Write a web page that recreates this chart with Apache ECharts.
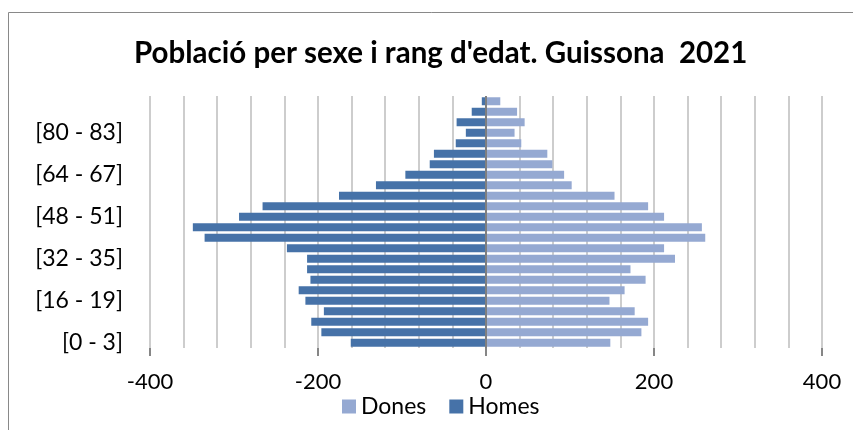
<!DOCTYPE html>
<html>
<head>
<meta charset="utf-8">
<script src="https://cdn.jsdelivr.net/npm/echarts@6/dist/echarts.min.js"></script>
<style>
  html, body { margin: 0; padding: 0; background: #fff; }
  #chart { width: 853px; height: 430px; }
</style>
</head>
<body>
<div id="chart"></div>
<script>
// age groups, bottom to top
const ageGroups = [
  "[0 - 3]", "[4 - 7]", "[8 - 11]", "[12 - 15]", "[16 - 19]", "[20 - 23]",
  "[24 - 27]", "[28 - 31]", "[32 - 35]", "[36 - 39]", "[40 - 43]", "[44 - 47]",
  "[48 - 51]", "[52 - 55]", "[56 - 59]", "[60 - 63]", "[64 - 67]", "[68 - 71]",
  "[72 - 75]", "[76 - 79]", "[80 - 83]", "[84 - 87]", "[88 - 91]", "[92 - 95]"
];
const dones = [148, 185, 193, 177, 147, 165, 190, 172, 225, 212, 261, 257,
  212, 193, 153, 102, 93, 79, 73, 42, 34, 46, 37, 17];
const homes = [-161, -196, -208, -193, -215, -223, -209, -213, -213, -237, -335, -349,
  -294, -266, -175, -131, -96, -67, -62, -36, -24, -35, -17, -5];

const xMin = -400, xMax = 400;
const fontFam = "Lato, 'Open Sans', sans-serif";

const chart = echarts.init(document.getElementById("chart"));

chart.setOption({
  animation: false,
  graphic: [{
    type: "rect",
    shape: { x: 8.5, y: 12.5, width: 860, height: 440 },
    style: { fill: "none", stroke: "#898989", lineWidth: 1 }
  }],
  title: {
    text: "Població per sexe i rang d'edat. Guissona  2021",
    left: 129,
    top: 33,
    textStyle: { fontFamily: fontFam, fontWeight: "bold", fontSize: 29.5, color: "#000" }
  },
  legend: {
    bottom: 7,
    left: 337,
    itemWidth: 14,
    itemHeight: 14,
    itemGap: 23,
    icon: "rect",
    data: ["Dones", "Homes"],
    textStyle: { fontFamily: fontFam, fontSize: 23, color: "#000" }
  },
  grid: { left: 150, right: 31, top: 96, bottom: 82 },
  xAxis: [
    {
      type: "value",
      min: xMin, max: xMax, interval: 40,
      axisLine: { show: false },
      axisTick: { show: false },
      axisLabel: { show: false },
      splitLine: { lineStyle: { color: "#bdbdbd", width: 1.5 } }
    },
    {
      type: "value",
      min: xMin, max: xMax, interval: 200,
      position: "bottom",
      axisLine: { onZero: false, lineStyle: { color: "#868686", width: 2 } },
      axisTick: { show: true, length: 8, lineStyle: { color: "#868686", width: 2 } },
      axisLabel: { margin: 23, fontFamily: fontFam, fontSize: 22, color: "#000" },
      splitLine: { show: false }
    }
  ],
  yAxis: {
    type: "category",
    data: ageGroups,
    axisLine: { show: false },
    axisTick: { show: false },
    axisLabel: { interval: 3, margin: 27, fontFamily: fontFam, fontSize: 23, color: "#000" }
  },
  series: [
    {
      name: "Dones",
      type: "bar",
      stack: "pop",
      barCategoryGap: "24%",
      data: dones,
      itemStyle: { color: "#95a9d2" }
    },
    {
      name: "Homes",
      type: "bar",
      stack: "pop",
      data: homes,
      itemStyle: { color: "#4672a8" },
      markLine: {
        silent: true,
        symbol: "none",
        label: { show: false },
        lineStyle: { color: "#7f7f7f", width: 2, type: "solid" },
        data: [{ xAxis: 0 }]
      }
    }
  ]
});
</script>
</body>
</html>
